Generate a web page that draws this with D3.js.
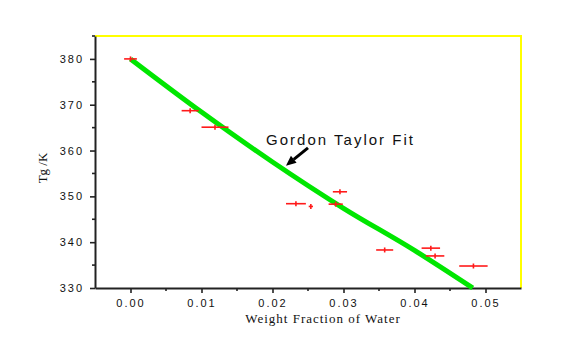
<!DOCTYPE html>
<html>
<head>
<meta charset="utf-8">
<script src="https://cdn.jsdelivr.net/npm/d3@7"></script>
<style>
  body { margin: 0; background: #fff; }
  svg { display: block; }
</style>
</head>
<body>
<div id="chart"></div>
<script>
// measured points (weight fraction of water, Tg in K, x error)
var waterFrac = [0.0, 0.0084, 0.0119, 0.0233, 0.0254, 0.0289, 0.0295, 0.0358, 0.0423, 0.0429, 0.0483];
var tgValues = [380, 368.7, 365.1, 348.4, 347.8, 348.3, 351.0, 338.3, 338.7, 337.0, 334.8];
var xErrors = [0.0009, 0.0012, 0.0019, 0.0014, 0.0003, 0.001, 0.001, 0.0012, 0.0013, 0.0013, 0.002];

// Gordon Taylor fit curve
var fitX = [0.0, 0.01, 0.02, 0.03, 0.04, 0.0482];
var fitY = [380, 368.4, 357.5, 347.4, 338.2, 330];

var xTicks = [0.00, 0.01, 0.02, 0.03, 0.04, 0.05];
var yTicks = [330, 340, 350, 360, 370, 380];

var width = 567, height = 362;
var margin = {left: 95, right: 46, top: 36, bottom: 74};

var svg = d3.select('#chart').append('svg')
    .attr('width', width)
    .attr('height', height);

var x = d3.scaleLinear().domain([-0.005, 0.055]).range([margin.left, width - margin.right]);
var y = d3.scaleLinear().domain([330, 385]).range([height - margin.bottom, margin.top]);

//yellow frame on top and right
svg.append('path')
    .attr('d', 'M' + x(-0.005) + ',' + y(385) + 'H' + x(0.055) + 'V' + y(330))
    .attr('fill', 'none')
    .attr('stroke', '#ffff00')
    .attr('stroke-width', 2);

//axes
var xAxis = d3.axisBottom(x)
    .tickValues(xTicks)
    .tickFormat(d3.format('.2f'))
    .tickSize(5)
    .tickSizeOuter(0);
var yAxis = d3.axisLeft(y)
    .tickValues(yTicks)
    .tickSize(5)
    .tickSizeOuter(0);

var gx = svg.append('g')
    .attr('transform', 'translate(0,' + y(330) + ')')
    .call(xAxis);
var gy = svg.append('g')
    .attr('transform', 'translate(' + x(-0.005) + ',0)')
    .call(yAxis);

//minor ticks
gx.selectAll('.minor')
    .data(d3.range(0.005, 0.055, 0.01))
    .enter().append('line')
    .attr('class', 'minor')
    .attr('x1', function(d){ return x(d); })
    .attr('x2', function(d){ return x(d); })
    .attr('y1', 0).attr('y2', 3);
gy.selectAll('.minor')
    .data([335, 345, 355, 365, 375, 385])
    .enter().append('line')
    .attr('class', 'minor')
    .attr('y1', function(d){ return y(d); })
    .attr('y2', function(d){ return y(d); })
    .attr('x1', 0).attr('x2', -3);

[gx, gy].forEach(function(g){
    g.select('.domain').attr('stroke', '#222').attr('stroke-width', 2);
    g.selectAll('line').attr('stroke', '#222').attr('stroke-width', 1.6);
    g.selectAll('text')
        .attr('font-family', 'Arial, "Liberation Sans", sans-serif')
        .attr('font-size', 11)
        .attr('letter-spacing', 2)
        .attr('fill', '#111');
});
gx.selectAll('.tick text').attr('dy', '0.95em').attr('y', 9);
gy.selectAll('.tick text').attr('x', -11);

//axis titles
svg.append('text')
    .attr('x', 323)
    .attr('y', 323)
    .attr('text-anchor', 'middle')
    .attr('font-family', '"Times New Roman", "Liberation Serif", serif')
    .attr('font-size', 13)
    .attr('letter-spacing', 1)
    .attr('fill', '#111')
    .text('Weight Fraction of Water');

svg.append('text')
    .attr('transform', 'translate(47,168) rotate(-90)')
    .attr('text-anchor', 'middle')
    .attr('font-family', '"Times New Roman", "Liberation Serif", serif')
    .attr('font-size', 13)
    .attr('fill', '#111')
    .text('Tg /K');

//fit line
var fitData = fitX.map(function(d, i){ return [d, fitY[i]]; });
svg.append('path')
    .datum(fitData)
    .attr('d', d3.line()
        .curve(d3.curveMonotoneX)
        .x(function(d){ return x(d[0]); })
        .y(function(d){ return y(d[1]); }))
    .attr('fill', 'none')
    .attr('stroke', '#00e600')
    .attr('stroke-width', 5)
    .attr('stroke-linecap', 'butt');

//data points with horizontal error bars
var points = waterFrac.map(function(d, i){
    return {x: d, y: tgValues[i], err: xErrors[i]};
});
var pg = svg.append('g').attr('stroke', '#ff1a1a').attr('stroke-width', 1.6);
pg.selectAll('.bar')
    .data(points)
    .enter().append('line')
    .attr('x1', function(d){ return x(d.x - d.err); })
    .attr('x2', function(d){ return x(d.x + d.err); })
    .attr('y1', function(d){ return y(d.y); })
    .attr('y2', function(d){ return y(d.y); });
pg.selectAll('.mark')
    .data(points)
    .enter().append('line')
    .attr('x1', function(d){ return x(d.x); })
    .attr('x2', function(d){ return x(d.x); })
    .attr('y1', function(d){ return y(d.y) - 2.5; })
    .attr('y2', function(d){ return y(d.y) + 2.5; });

//annotation
svg.append('text')
    .attr('x', x(0.0191))
    .attr('y', y(361.3))
    .attr('font-family', 'Arial, "Liberation Sans", sans-serif')
    .attr('font-size', 15)
    .attr('letter-spacing', 2)
    .attr('fill', '#111')
    .text('Gordon Taylor Fit');

var tail = [x(0.0250), y(360.6)];
var tip = [x(0.0219), y(356.7)];
var ang = Math.atan2(tip[1] - tail[1], tip[0] - tail[0]);
var headLen = 10, headW = 4.5;
var base = [tip[0] - headLen * Math.cos(ang), tip[1] - headLen * Math.sin(ang)];
svg.append('line')
    .attr('x1', tail[0]).attr('y1', tail[1])
    .attr('x2', base[0]).attr('y2', base[1])
    .attr('stroke', '#000')
    .attr('stroke-width', 3);
svg.append('path')
    .attr('d', 'M' + tip[0] + ',' + tip[1] +
        'L' + (base[0] + headW * Math.sin(ang)) + ',' + (base[1] - headW * Math.cos(ang)) +
        'L' + (base[0] - headW * Math.sin(ang)) + ',' + (base[1] + headW * Math.cos(ang)) + 'Z')
    .attr('fill', '#000');
</script>
</body>
</html>
